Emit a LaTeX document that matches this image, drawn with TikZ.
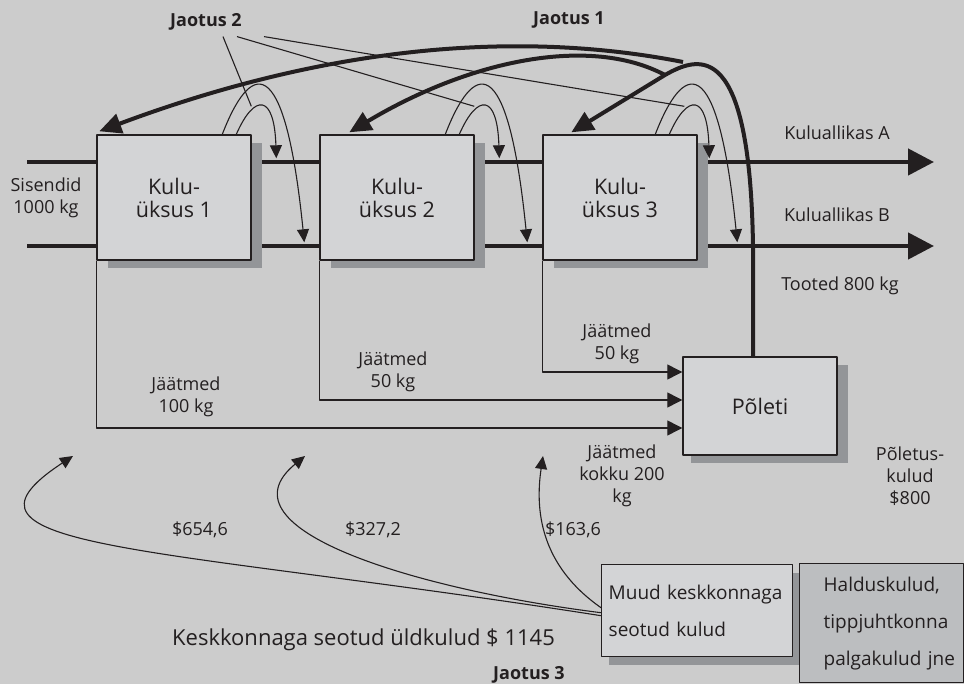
\documentclass[tikz,border=0pt]{standalone}
\usepackage{fontspec}
\setmainfont{Open Sans}
\usetikzlibrary{arrows.meta,shadows}

\definecolor{bggrey}{RGB}{204,204,204}
\definecolor{boxgrey}{RGB}{211,212,214}
\definecolor{shadegrey}{RGB}{147,149,152}
\definecolor{admingrey}{RGB}{188,190,192}
\definecolor{ink}{RGB}{35,31,32}

\begin{document}
\begin{tikzpicture}[
  x=1pt,y=-1pt,color=ink,
  every path/.style={line join=round},
  lbl/.style={font=\fontsize{18}{22}\selectfont,align=center,inner sep=0pt},
  head/.style={font=\fontsize{18}{20}\selectfont\bfseries,inner sep=0pt},
  shd/.style={drop shadow={shadow xshift=#1,shadow yshift=-8pt,fill=shadegrey,opacity=1}},
  unit/.style={draw,line width=1.4pt,fill=boxgrey,minimum width=154pt,
    minimum height=125pt,align=center,font=\fontsize{21.5}{23}\selectfont,shd=11pt},
  side/.style={draw,line width=1.4pt,anchor=north west,inner xsep=0pt,
    align=left,font=\fontsize{19}{37}\selectfont},
  flow/.style={line width=4.5pt,-{Triangle[length=26pt,width=26pt]}},
  waste/.style={line width=1.2pt,-{Triangle[length=15pt,width=15pt]}},
  hop/.style={line width=1.1pt,-{Triangle[length=13pt,width=12pt]}},
  alloc/.style={line width=4pt,-{Triangle[length=22pt,width=20pt]}}
]
  \useasboundingbox (0,0) rectangle (964,684);
  \fill[bggrey] (0,0) rectangle (964,684);

  % main flows
  \coordinate (inA) at (27,162);
  \coordinate (outA) at (934,162);
  \coordinate (inB) at (27,246);
  \coordinate (outB) at (934,246);
  \draw[flow] (inA) -- (outA);
  \draw[flow] (inB) -- (outB);

  \node[unit] (k1) at (174,197.5) {Kulu-\\üksus 1};
  \node[unit] (k2) at (397,197.5) {Kulu-\\üksus 2};
  \node[unit] (k3) at (620,197.5) {Kulu-\\üksus 3};
  \node[unit,minimum height=98pt,shd=8pt] (poleti) at (760,406) {Põleti};

  % waste to incinerator
  \draw[waste] (k1.south west) |- ([yshift=-22pt]poleti.west);
  \draw[waste] (k2.south west) |- ([yshift=6pt]poleti.west);
  \draw[waste] (k3.south west) |- ([yshift=34pt]poleti.west);

  % allocation 2 hooks
  \foreach \b/\dx in {1/0,2/0,3/-13}{
    \begin{scope}[shift={(k\b.north west)},xshift=\dx pt]
      \draw[hop] (126,0) .. controls (153,-70) and (188,-90) .. (208,108);
      \draw[hop] (140,0) .. controls (158,-41) and (178,-41) .. (180,24);
      \coordinate (hook\b) at (155,-28);
    \end{scope}
  }

  % allocation 1
  \coordinate (split) at (665,75);
  \coordinate (hi) at (683,62);
  \draw[alloc] ([xshift=-7pt]poleti.north) -- ++(0,-110)
    .. controls (750,40) and (700,55) .. (split)
    -- ([xshift=29pt,yshift=2pt]k3.north west);
  \draw[alloc] (split) .. controls (590,35) and (470,60)
    .. ([xshift=30pt,yshift=2pt]k2.north west);
  \draw[alloc] (hi) .. controls (520,30) and (330,45)
    .. ([xshift=3pt,yshift=3pt]k1.north west);

  \node[head] (j2) at (206,22) {Jaotus 2};
  \node[head] (j1) at (569,20) {Jaotus 1};
  \draw[line width=1.1pt] ([xshift=17pt,yshift=-6pt]j2.south) -- (hook1);
  \draw[line width=1.1pt] ([xshift=31pt,yshift=-6pt]j2.south) -- (hook2);
  \draw[line width=1.1pt] ([xshift=58pt,yshift=-6pt]j2.south) -- (hook3);

  % labels
  \node[lbl] (sis) at (46,198) {Sisendid\\1000 kg};
  \node[lbl] (ka) at (837,133) {Kuluallikas A};
  \node[lbl] (kb) at (837,215) {Kuluallikas B};
  \node[lbl] (tooted) at (840,286) {Tooted 800 kg};
  \node[lbl] (w1) at (186,397) {Jäätmed\\100 kg};
  \node[lbl] (w2) at (393,372) {Jäätmed\\50 kg};
  \node[lbl] (w3) at (617,344) {Jäätmed\\50 kg};
  \node[lbl] (wsum) at (622,476) {Jäätmed\\kokku 200\\kg};
  \node[lbl] (pcost) at (910,476) {Põletus-\\kulud\\\$800};

  % allocation 3
  \node[side,fill=boxgrey,shd=7pt,minimum width=191pt,minimum height=92pt,
    text width=191pt] (muud) at (601,564)
    {\hspace*{7pt}\mbox{Muud keskkonnaga}\\\hspace*{7pt}\mbox{seotud kulud}};
  \node[side,fill=admingrey,minimum width=164pt,minimum height=119pt,
    text width=164pt] (admin) at (799,563)
    {\hspace*{24pt}Halduskulud,\\\hspace*{24pt}tippjuhtkonna\\
     \hspace*{24pt}\mbox{palgakulud jne}};
  \coordinate (d1) at (73,456);
  \coordinate (d2) at (305,456);
  \coordinate (d3) at (543,456);
  \draw[hop] ([yshift=-5pt]muud.west) .. controls (150,545) and (-70,550) .. (d1);
  \draw[hop] ([yshift=-2pt]muud.west) .. controls (420,590) and (215,530) .. (d2);
  \draw[hop] ([yshift=3pt]muud.west) .. controls (540,565) and (535,510) .. (d3);
  \node[lbl] (c1) at (200,530) {\$654,6};
  \node[lbl] (c2) at (373,530) {\$327,2};
  \node[lbl] (c3) at (573,530) {\$163,6};
  \node[anchor=west,inner sep=0pt,font=\fontsize{22}{26}\selectfont] (total)
    at (172,640) {Keskkonnaga seotud üldkulud \$ 1145};
  \node[head] (j3) at (529,675) {Jaotus 3};
\end{tikzpicture}
\end{document}
